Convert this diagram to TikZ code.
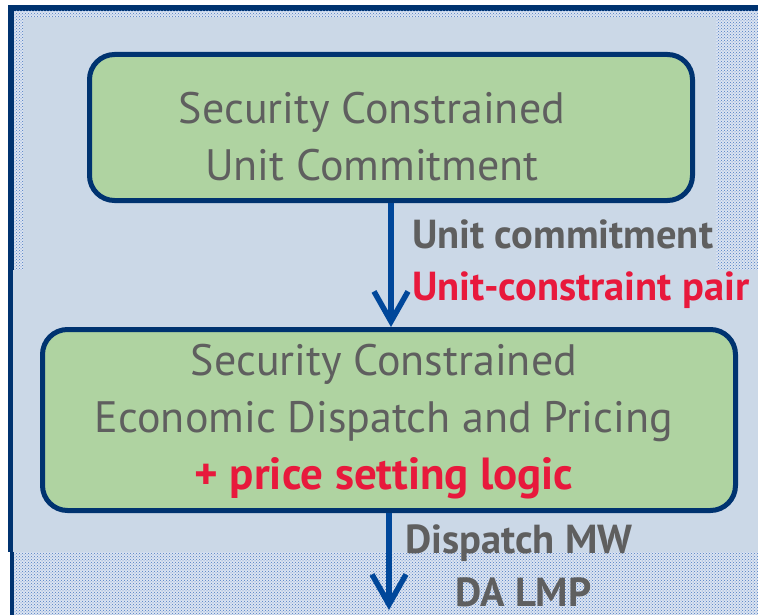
\documentclass[tikz,border=0pt]{standalone}
\usepackage{fontspec}
\setmainfont{PT Sans}
\usetikzlibrary{arrows.meta,patterns}
\definecolor{panel}{HTML}{CBD8E7}
\definecolor{navy}{HTML}{003370}
\definecolor{flowblue}{HTML}{00479A}
\definecolor{boxgreen}{HTML}{AFD3A1}
\definecolor{textgray}{HTML}{5F5F5F}
\definecolor{alertred}{HTML}{E8193C}
\definecolor{dotblue}{HTML}{4A7BC2}
\definecolor{dotback}{HTML}{DCE4F1}

\begin{document}
\begin{tikzpicture}[x=1pt,y=-1pt]
  \tikzstyle{stage} = [rounded corners=25pt, draw=navy, line width=5pt, fill=boxgreen]
  \tikzstyle{title} = [text=textgray, align=center, font=\fontsize{44}{57}\selectfont]
  \tikzstyle{lab} = [anchor=base west, inner sep=0pt, font=\fontsize{40.5}{42}\selectfont\bfseries]
  \tikzstyle{flow} = [draw=flowblue, line width=5.5pt, -{Straight Barb[length=30pt,width=34pt]}]
  \tikzstyle{dots} = [fill=dotback, postaction={pattern=crosshatch dots, pattern color=dotblue}]
  \useasboundingbox (0,0) rectangle (758,615);

  % slide backdrop
  \fill[navy] (8,5) rectangle (758,270);
  \path[dots] (14,11) rectangle (758,270);
  \fill[panel] (23,17) rectangle (716,270);
  \fill[navy] (8,270) rectangle (13,552);
  \fill[panel] (13,270) rectangle (758,552);
  \fill[navy] (10,552) rectangle (14,615);
  \path[dots] (14,552) rectangle (758,615);

  \node[stage, minimum width=603pt, minimum height=146pt](uc) at (391,127.5){};
  \node[stage, minimum width=693pt, minimum height=181pt](ed) at (389,420){};
  \node[title](uctext) at (372,137){Security Constrained\\Unit Commitment};
  \node[title](edtext) at (384,422){Security Constrained\\Economic Dispatch and Pricing\\
    {\color{alertred}\bfseries\fontsize{45}{57}\selectfont + price setting logic}};

  \coordinate (sink) at (387,610);
  \draw[flow](uc.south) -- (uc.south |- ed.north);
  \draw[flow](ed.south) -- (ed.south |- sink);

  \node[lab, text=textgray](commit) at (412,248){Unit commitment};
  \node[lab, text=alertred](pair) at (412,300){Unit-constraint pair};
  \node[lab, text=textgray](mw) at (405,553){Dispatch MW};
  \node[lab, text=textgray](lmp) at (455,606){DA LMP};
\end{tikzpicture}
\end{document}
